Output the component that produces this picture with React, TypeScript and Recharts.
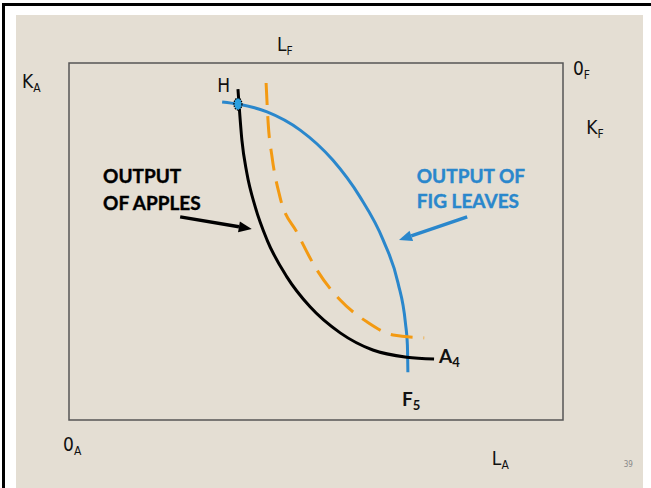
import { LineChart, Line, XAxis, YAxis, ReferenceArea, ReferenceDot, ReferenceLine } from 'recharts';

// Edgeworth box, both axes run 0..100 across the box
const applesCurve = [
  { x: 34.2, y: 92.7 },
  { x: 34.4, y: 88.8 },
  { x: 35.0, y: 78.4 },
  { x: 36.0, y: 69.2 },
  { x: 37.7, y: 59.7 },
  { x: 40.1, y: 50.4 },
  { x: 44.1, y: 40.1 },
  { x: 48.8, y: 31.7 },
  { x: 54.9, y: 24.4 },
  { x: 61.5, y: 19.6 },
  { x: 68.4, y: 17.6 },
  { x: 73.9, y: 17.1 },
];

const figCurve = [
  { x: 31.0, y: 89.1 },
  { x: 34.2, y: 88.5 },
  { x: 40.1, y: 86.3 },
  { x: 46.8, y: 81.2 },
  { x: 53.4, y: 72.8 },
  { x: 58.9, y: 62.5 },
  { x: 63.6, y: 50.4 },
  { x: 66.6, y: 38.4 },
  { x: 68.1, y: 27.2 },
  { x: 68.5, y: 21.0 },
  { x: 68.6, y: 13.4 },
];

const middleCurve = [
  { x: 39.9, y: 94.4 },
  { x: 40.3, y: 83.5 },
  { x: 41.1, y: 73.7 },
  { x: 42.7, y: 62.5 },
  { x: 46.2, y: 52.4 },
  { x: 50.2, y: 42.0 },
  { x: 54.9, y: 33.6 },
  { x: 60.3, y: 27.5 },
  { x: 65.6, y: 23.8 },
  { x: 71.9, y: 23.0 },
];

const pointH = { x: 34.2, y: 88.5 };

const applesArrow = [{ x: 22.5, y: 56.9 }, { x: 37.0, y: 53.5 }];
const figArrow = [{ x: 80.6, y: 56.9 }, { x: 66.8, y: 50.4 }];

// axis labels: main letter + subscript
const axisLabels = [
  { x: 42.1, y: 103.4, main: 'L', sub: 'F' },
  { x: -9.5, y: 93.0, main: 'K', sub: 'A' },
  { x: 102.0, y: 96.6, main: '0', sub: 'F' },
  { x: 104.7, y: 80.1, main: 'K', sub: 'F' },
  { x: -1.2, y: -8.7, main: '0', sub: 'A' },
  { x: 85.6, y: -12.6, main: 'L', sub: 'A' },
  { x: 30.0, y: 91.9, main: 'H', sub: '' },
];

const curveLabels = [
  { x: 74.9, y: 16.0, main: 'A', sub: '4' },
  { x: 67.4, y: 3.9, main: 'F', sub: '5' },
];

const applesText = [
  { x: 6.9, y: 66.4, text: 'OUTPUT' },
  { x: 6.9, y: 58.8, text: 'OF APPLES' },
];

const figText = [
  { x: 70.4, y: 66.4, text: 'OUTPUT OF' },
  { x: 70.4, y: 59.4, text: 'FIG LEAVES' },
];

const BLUE = '#2a87cc';
const ORANGE = '#f39a12';
const thin = '"DejaVu Sans Condensed", "DejaVu Sans", sans-serif';
const bold = 'Lato, "DejaVu Sans", sans-serif';

const arrowShape = (color: string) => (props: any) => {
  const { x1, y1, x2, y2 } = props;
  const a = Math.atan2(y2 - y1, x2 - x1);
  const len = 13;
  const half = 5.5;
  const bx = x2 - len * Math.cos(a);
  const by = y2 - len * Math.sin(a);
  const px = -Math.sin(a) * half;
  const py = Math.cos(a) * half;
  return (
    <g>
      <line x1={x1} y1={y1} x2={bx} y2={by} stroke={color} strokeWidth={3.5} />
      <polygon points={`${x2},${y2} ${bx + px},${by + py} ${bx - px},${by - py}`} fill={color} />
    </g>
  );
};

const subLabel = (main: string, sub: string, family: string, weight: number, size: number, subSize: number) =>
  (props: any) => (
    <text x={props.cx} y={props.cy} fontFamily={family} fontWeight={weight} fontSize={size} fill="#111">
      {main}
      <tspan fontSize={subSize} dy={4}>{sub}</tspan>
    </text>
  );

const textShape = (text: string, color: string) => (props: any) => (
  <text x={props.cx} y={props.cy} fontFamily={bold} fontWeight={700} fontSize={19} fill={color} stroke={color} strokeWidth={0.4}>
    {text}
  </text>
);

export default function App() {
  return (
    <div style={{ position: 'absolute', left: 0, top: 0, width: 651, height: 488, background: '#fff', overflow: 'hidden' }}>
      <div style={{ position: 'absolute', left: 2, top: 3, right: 0, bottom: 0, borderLeft: '3px solid #000', borderTop: '3px solid #000' }} />
      <div style={{ position: 'absolute', left: 16, top: 15, width: 627, height: 473, background: '#e4ded3' }} />
      <div style={{ position: 'absolute', left: 0, top: 0 }}>
        <LineChart width={651} height={488} margin={{ top: 63, left: 69, right: 88, bottom: 68 }}>
          <XAxis type="number" dataKey="x" domain={[0, 100]} hide />
          <YAxis type="number" dataKey="y" domain={[0, 100]} hide />
          <ReferenceArea x1={0} x2={100} y1={0} y2={100} fill="none" stroke="#555" strokeWidth={1.5} fillOpacity={0} />
          <Line data={figCurve} dataKey="y" type="monotone" stroke={BLUE} strokeWidth={3} dot={false} isAnimationActive={false} />
          <Line data={middleCurve} dataKey="y" type="monotone" stroke={ORANGE} strokeWidth={3} strokeDasharray="22 11" dot={false} isAnimationActive={false} />
          <Line data={applesCurve} dataKey="y" type="monotone" stroke="#000" strokeWidth={3} dot={false} isAnimationActive={false} />
          <ReferenceLine segment={applesArrow} shape={arrowShape('#000')} ifOverflow="visible" />
          <ReferenceLine segment={figArrow} shape={arrowShape(BLUE)} ifOverflow="visible" />
          <ReferenceDot
            x={pointH.x}
            y={pointH.y}
            ifOverflow="visible"
            shape={(p: any) => (
              <ellipse cx={p.cx} cy={p.cy} rx={4} ry={6} fill="#2aa0e0" stroke="#000" strokeWidth={1.2} strokeDasharray="1.5 1" />
            )}
          />
          {axisLabels.map((l) => (
            <ReferenceDot key={l.main + l.sub + l.x} x={l.x} y={l.y} ifOverflow="visible" shape={subLabel(l.main, l.sub, thin, 400, 19, 12)} />
          ))}
          {curveLabels.map((l) => (
            <ReferenceDot key={l.main + l.sub} x={l.x} y={l.y} ifOverflow="visible" shape={subLabel(l.main, l.sub, bold, 700, 19, 13)} />
          ))}
          {applesText.map((t) => (
            <ReferenceDot key={t.text} x={t.x} y={t.y} ifOverflow="visible" shape={textShape(t.text, '#000')} />
          ))}
          {figText.map((t) => (
            <ReferenceDot key={t.text} x={t.x} y={t.y} ifOverflow="visible" shape={textShape(t.text, BLUE)} />
          ))}
          <ReferenceDot
            x={112.3}
            y={-13.2}
            ifOverflow="visible"
            shape={(p: any) => (
              <text x={p.cx} y={p.cy} fontSize={8} fill="#888" fontFamily={thin}>39</text>
            )}
          />
        </LineChart>
      </div>
    </div>
  );
}
